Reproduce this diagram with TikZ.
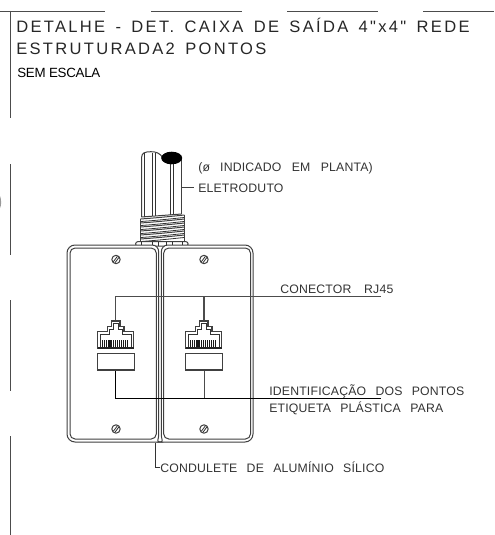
\documentclass[tikz,border=0pt]{standalone}
\usepackage{fontspec}
\setmainfont{Liberation Sans}
\newfontfamily\titlefont[LetterSpace=14,WordSpace=1.5]{Liberation Sans}
\newfontfamily\cadfont[LetterSpace=1.5,WordSpace=2.6]{Liberation Sans}
\begin{document}
\begin{tikzpicture}[x=0.75pt,y=-0.75pt,
  frameline/.style={draw=black!70,line width=1pt},
  cadline/.style={draw=black!75,line width=0.75pt},
  thinline/.style={draw=black!80,line width=0.6pt},
  leader/.style={draw=black!70,line width=0.9pt},
  leaderdark/.style={draw=black,line width=0.7pt},
  titletext/.style={anchor=base west,inner sep=0pt,text=black!85,font=\titlefont\fontsize{12.4pt}{14pt}\selectfont},
  cadtext/.style={anchor=base west,inner sep=0pt,text=black!80,font=\cadfont\fontsize{9.2pt}{11pt}\selectfont}]
\useasboundingbox (0,0) rectangle (494,535);
% frame fragments
\foreach \a/\b in {0/105,151/242,287/378,423/494}
  \draw[frameline,line width=0.7pt] (\a,11.5) -- (\b,11.5);
\foreach \a/\b in {11/118,164/255,300/391,436/535}
  \draw[frameline] (10.7,\a) -- (10.7,\b);
\fill[black!40] (0,196) .. controls (1.5,199) and (1.5,206) .. (0,208) -- cycle;
% titles
\node[titletext] (t1) at (16,32.5) {DETALHE - DET. CAIXA DE SAÍDA 4"x4" REDE};
\node[titletext] (t2) at (16,55) {ESTRUTURADA2 PONTOS};
\node[anchor=base west,inner sep=0pt,font=\fontsize{10pt}{12pt}\selectfont,text=black] (t3) at (17,78) {\addfontfeature{LetterSpace=-2}SEM ESCALA};
% conduit
\draw[cadline] (141.7,217) -- (141.7,157) .. controls (141.7,153) and (145,151.7) .. (151,151.7)
   .. controls (156,151.7) and (160,153) .. (163,158);
\draw[cadline] (181.7,158) -- (181.7,214);
\foreach \x/\yb in {144/216.5,152/215.5,155/215.5,170/214.5,173/214.5}
  \draw[thinline] (\x,153) -- (\x,\yb);
\fill[black] (171.7,158) ellipse [x radius=10.5,y radius=6.3];
% threads
\foreach \dy in {0,4,8,12,16,20}{
  \draw[cadline] (140.5,219+\dy) .. controls (155,218+\dy) and (170,216.5+\dy) .. (184.5,215+\dy);
  \draw[thinline] (141,221.5+\dy) .. controls (155,220.5+\dy) and (170,219+\dy) .. (184,217.5+\dy);
}
\draw[cadline] (141.7,217) -- (181.7,214);
\draw[cadline] (140.5,219) -- (140.5,242) (184.5,215) -- (184.5,242);
% nuts
\draw[cadline,rounded corners=1.5pt,fill=white] (135.7,241.7) rectangle (188,246.2);
\foreach \x in {141,152,158,166,172,182}
  \draw[thinline] (\x,241.7) -- (\x,246.2);
% boxes
\draw[cadline,fill=white] (152,245) [rounded corners=6pt] -- (67,245) -- (67,442) -- (152,442) [sharp corners]
  .. controls (156,442) and (158.7,439) .. (158.7,435) -- (158.7,252) .. controls (158.7,248) and (156,245) .. (152,245) -- cycle;
\draw[cadline,fill=white] (168,245) [rounded corners=6pt] -- (253,245) -- (253,442) -- (168,442) [sharp corners]
  .. controls (164,442) and (161.3,439) .. (161.3,435) -- (161.3,252) .. controls (161.3,248) and (164,245) .. (168,245) -- cycle;
\draw[cadline,rounded corners=3.8pt] (70,248) rectangle (156.3,439);
\draw[cadline,rounded corners=3.8pt] (163.7,248) rectangle (250.5,439);
% screws
\foreach \x in {116,204} \foreach \y in {259.5,429}{
  \draw[cadline] (\x,\y) circle [radius=4.2];
  \draw[thinline] (\x-2.6,\y+2.2) -- (\x+1.4,\y-3.2) (\x-1,\y+3.2) -- (\x+3,\y-2.2);
}
% leaders
\coordinate (cn1) at (115.5,296.5); \coordinate (cn2) at (204,296.5); \coordinate (cnend) at (381,296.5);
\coordinate (j1t) at (115.5,321); \coordinate (j2t) at (204,321);
\coordinate (lb1) at (115.5,370); \coordinate (lb2) at (204,370);
\coordinate (et1) at (115.5,398); \coordinate (et2) at (204,398); \coordinate (etend) at (381,398);
\draw[leader] (j1t) -- (cn1) -- (cnend);
\draw[leader] (cn2) -- (j2t);
\draw[leaderdark] (lb1) -- (et1) -- (etend);
\draw[leader,line width=0.7pt] (lb2) -- (et2);
% jacks
\foreach \dx in {0,88}{
 \begin{scope}[xshift=\dx*0.75pt]
  \draw[cadline,line width=0.9pt,fill=white] (97.5,348) -- (97.5,331.5) -- (107.5,331.5) -- (107.5,326.5)
     -- (111.5,326.5) -- (111.5,321) -- (120,321) -- (120,326.5) -- (124,326.5) -- (124,331.5) -- (133.5,331.5) -- (133.5,348) -- cycle;
  \draw[thinline] (100,348) -- (100,334) -- (109.5,334) -- (109.5,329) -- (113.5,329) -- (113.5,323.5) -- (118,323.5) -- (118,329) -- (122,329) -- (122,334) -- (131,334) -- (131,348);
  \fill[black!85] (97.5,346.5) rectangle (133.5,349);
  \foreach \k in {0,...,12}
    \fill[black!90] (102+\k*2.1,340) rectangle ++(1.2,7);
  \draw[cadline,line width=0.9pt] (97.3,353.3) rectangle (134.5,370);
 \end{scope}
}
% labels
\node[cadtext] (phi) at (198,171) {(ø\hspace{0.6pt} INDICADO\hspace{0.8pt} EM\hspace{0.8pt} PLANTA)};
\node[cadtext] (ele) at (198,192) {ELETRODUTO};
\node[cadtext] (rj) at (280,293) {CONECTOR\hspace{2.5pt} RJ45};
\node[cadtext] (ident) at (269,395) {IDENTIFICAÇÃO DOS PONTOS};
\node[cadtext] (etq) at (269,412.5) {ETIQUETA PLÁSTICA PARA};
\node[cadtext] (cond) at (160,472) {CONDULETE DE ALUMÍNIO SÍLICO};
\coordinate (elet) at (181.7,187);
\draw[cadline] (elet) -- ([xshift=-3pt]ele.west |- elet);
\coordinate (cb) at (155.5,442.5); \coordinate (ce) at (155.5,467.5);
\draw[thinline] (cb) -- (ce) -- (cond.west |- ce);
\end{tikzpicture}
\end{document}
